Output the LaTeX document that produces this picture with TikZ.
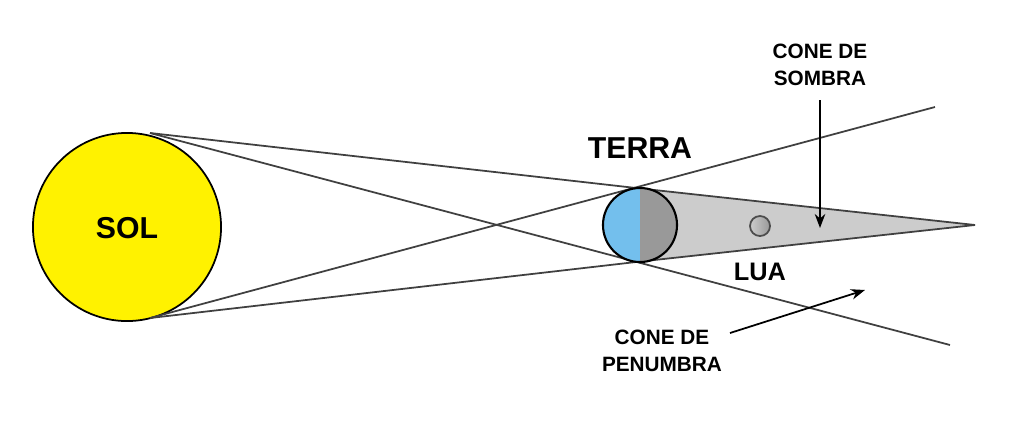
\documentclass[tikz,border=0pt]{standalone}
\usepackage{fontspec}
\setmainfont{Liberation Sans}
\usetikzlibrary{positioning, arrows.meta}
\definecolor{solyellow}{rgb}{1, 0.95, 0}
\definecolor{terrablue}{rgb}{0.45, 0.75, 0.93}
\definecolor{terragray}{rgb}{0.6, 0.6, 0.6}
\definecolor{umbragray}{rgb}{0.8, 0.8, 0.8}
\tikzset{lbl/.style={font=\bfseries\fontsize{5.9}{7.6}\selectfont, align=center, inner sep=0pt},
	ray/.style={draw=black!75, line width=0.5pt}}
\begin{document}
\begin{tikzpicture}[x=0.01cm, y=-0.01cm]
	\useasboundingbox (0,0) rectangle (1024,442);
	% umbra
	\coordinate (tip) at (975,225);
	\coordinate (etop) at (636,188);
	\coordinate (ebot) at (636,262);
	\fill[umbragray] (etop) -- (tip) -- (ebot) -- cycle;
	\coordinate (stop) at (150,133);
	\coordinate (sbot) at (150,318);
	\coordinate (penu) at (950,345);
	\coordinate (penl) at (935,107);
	% sun
	\draw[fill=solyellow, line width=0.5pt] (127,227) circle (0.94cm);
	\node[lbl, font=\bfseries\fontsize{8.6}{10}\selectfont] (sol) at (127,228) {SOL};
	% rays
	\draw[ray] (stop) -- (etop) -- (tip);
	\draw[ray] (sbot) -- (ebot) -- (tip);
	\draw[ray] (stop) -- (penu);
	\draw[ray] (sbot) -- (penl);
	% earth
	\begin{scope}
		\clip (640,225) circle (0.37cm);
		\fill[terrablue] (600,180) rectangle (640,270);
		\fill[terragray] (640,180) rectangle (680,270);
	\end{scope}
	\draw[line width=0.6pt] (640,225) circle (0.37cm);
	% moon
	\shade[left color=umbragray, right color=terragray, draw=black!70, line width=0.5pt] (760,226) circle (0.1cm);
	\node[lbl, font=\bfseries\fontsize{8.6}{10}\selectfont] (terra) at (640,148) {TERRA};
	\node[lbl, font=\bfseries\fontsize{7.2}{9}\selectfont] (lua) at (760,272) {LUA};
	\node[lbl] (sombra) at (820,65) {CONE DE\\SOMBRA};
	\node[lbl] (penumbra) at (662,351) {CONE DE\\PENUMBRA};
	\coordinate (sombrastart) at (820,100);
	\coordinate (sombraend) at (820,228);
	\coordinate (penstart) at (730,333);
	\coordinate (penend) at (865,290);
	\draw[-{Stealth[length=4pt]}, line width=0.5pt] (sombrastart) -- (sombraend);
	\draw[-{Stealth[length=4pt]}, line width=0.5pt] (penstart) -- (penend);
\end{tikzpicture}
\end{document}
